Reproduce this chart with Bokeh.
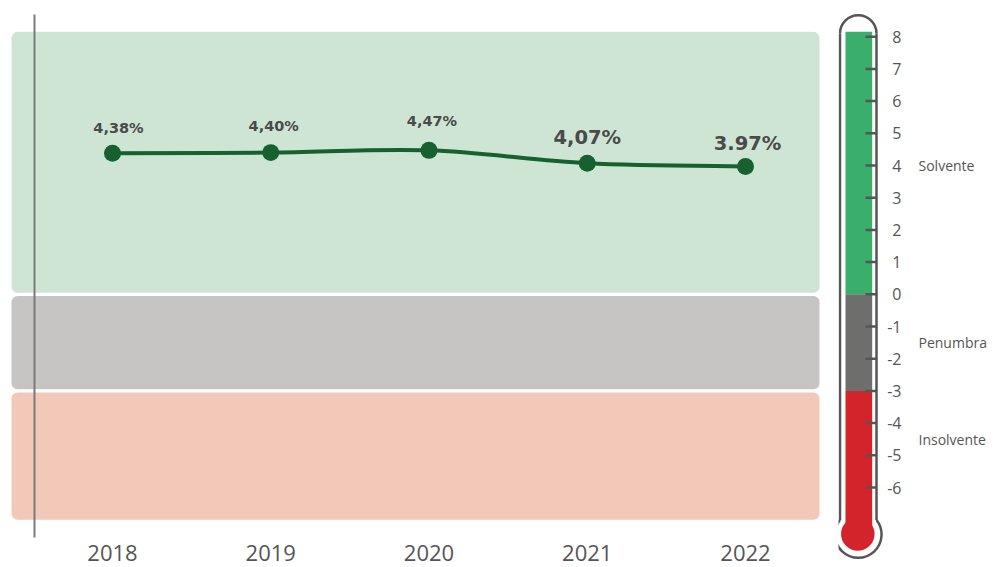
import math
from bokeh.plotting import figure
from bokeh.layouts import row
from bokeh.models import Range1d, ColumnDataSource
from bokeh.core.properties import value
from bokeh.embed import file_html
from bokeh.resources import INLINE

# ---------------- data ----------------
years = [2018, 2019, 2020, 2021, 2022]
ratio = [4.38, 4.40, 4.47, 4.07, 3.97]
ratio_labels = ["4,38%", "4,40%", "4,47%", "4,07%", "3.97%"]

zone_names = ["Solvente", "Penumbra", "Insolvente"]
zone_top = [8.15, 0, -3]
zone_bottom = [0, -3, -7]
scale_ticks = [-6, -5, -4, -3, -2, -1, 0, 1, 2, 3, 4, 5, 6, 7, 8]

# ---------------- styles / layout ----------------
BAND_COLORS = ["#cfe5d4", "#c6c5c3", "#f2c9b8"]
FILL_COLORS = ["#3aaf6c", "#6e6e6d", "#d3242b"]
LINE_COLOR = "#17602f"
TEXT_DARK = "#4a4a4a"
TEXT_GRAY = "#555555"
OUTLINE = "#555555"

H = 567          # figure height (px)
W_MAIN = 838
W_TH = 157
K = 32.2         # px per unit on the value scale
ZERO = 293.8     # px from top to value 0
XPX = 158.25     # px per year
X0 = years[0] - 112 / XPX

def vy(page_y):
    """value corresponding to a pixel row"""
    return (ZERO - page_y) / K

y_range = Range1d(start=(ZERO - H) / K, end=ZERO / K)
x_range = Range1d(start=X0, end=X0 + W_MAIN / XPX)

def base_fig(w, xr):
    f = figure(width=w, height=H, x_range=xr, y_range=y_range,
               output_backend="svg", toolbar_location=None,
               x_axis_location=None, y_axis_location=None,
               min_border=0, min_border_left=0, min_border_right=0,
               min_border_top=0, min_border_bottom=0,
               outline_line_color=None, background_fill_color="white",
               border_fill_color="white")
    f.grid.visible = False
    return f

p = base_fig(W_MAIN, x_range)

# zone bands with small white gaps between them
g = 1.6 / K
b_top = [zone_top[0]] + [t - g for t in zone_top[1:]]
b_bot = [b + g for b in zone_bottom[:-1]] + [zone_bottom[-1]]
p.quad(left=X0 + 11 / XPX, right=X0 + 819 / XPX, top=b_top, bottom=b_bot,
       fill_color=BAND_COLORS, line_color=None, border_radius=6)

# vertical axis line
xl = X0 + 34 / XPX
p.segment(x0=xl, y0=vy(14), x1=xl, y1=vy(537), line_color="#7a7a7a", line_width=2)

# smooth line (Catmull-Rom rendered as bezier)
n = len(years)
x0s, y0s, x1s, y1s, cx0, cy0, cx1, cy1 = [], [], [], [], [], [], [], []
for i in range(n - 1):
    xm, ym = (years[i - 1], ratio[i - 1]) if i > 0 else (years[i], ratio[i])
    xp2, yp2 = (years[i + 2], ratio[i + 2]) if i + 2 < n else (years[i + 1], ratio[i + 1])
    x0s.append(years[i]); y0s.append(ratio[i])
    x1s.append(years[i + 1]); y1s.append(ratio[i + 1])
    cx0.append(years[i] + (years[i + 1] - xm) / 6)
    cy0.append(ratio[i] + (ratio[i + 1] - ym) / 6)
    cx1.append(years[i + 1] - (xp2 - years[i]) / 6)
    cy1.append(ratio[i + 1] - (yp2 - ratio[i]) / 6)
p.bezier(x0=x0s, y0=y0s, x1=x1s, y1=y1s, cx0=cx0, cy0=cy0, cx1=cx1, cy1=cy1,
         line_color=LINE_COLOR, line_width=4)
p.scatter(x=years, y=ratio, size=17, marker="circle",
          fill_color=LINE_COLOR, line_color=None)

lab_src = ColumnDataSource(dict(
    x=years, y=ratio, text=ratio_labels,
    fs=["14.5px", "14.5px", "14.5px", "19.5px", "19.5px"],
    dx=[6, 3, 3, 0, 2], dy=[-25, -27, -29, -26, -23],
))
p.text(x="x", y="y", text="text", source=lab_src, x_offset="dx", y_offset="dy",
       text_font_size="fs", text_font=value("DejaVu Sans"), text_font_style="bold",
       text_color=TEXT_DARK, text_align="center", text_baseline="middle")

# year labels
p.text(x=years, y=vy(552), text=[str(y) for y in years],
       text_font=value("Open Sans"), text_font_size="22px", text_color=TEXT_GRAY,
       text_align="center", text_baseline="middle")

# ---------------- thermometer ----------------
t = base_fig(W_TH, Range1d(0, W_TH))
TX = W_MAIN  # pixel x of thermometer figure

def tx(page_x):
    return page_x - TX

bulb_y = vy(533.5)
fill_bottom = zone_bottom[:-1] + [bulb_y]
t.quad(left=tx(845), right=tx(871.7), top=zone_top, bottom=fill_bottom,
       fill_color=FILL_COLORS, line_color=None)
t.scatter(x=tx(857.3), y=bulb_y, size=33.5, marker="circle",
          fill_color=FILL_COLORS[-1], line_color=None)

cx = tx(857.75)
half = 18.25
r_b = 23.3
ang = math.acos(half / r_b)
join_y = 534 - r_b * math.sin(ang)
# tube outline
t.arc(x=cx, y=vy(33), radius=half, radius_units="screen", start_angle=0,
      end_angle=math.pi, direction="anticlock", line_color=OUTLINE, line_width=2.5)
t.segment(x0=[cx - half, cx + half], y0=[vy(33)] * 2, x1=[cx - half, cx + half],
          y1=[vy(join_y)] * 2, line_color=OUTLINE, line_width=2.5)
t.arc(x=cx, y=vy(534), radius=r_b, radius_units="screen",
      start_angle=math.pi - ang, end_angle=ang, direction="anticlock",
      line_color=OUTLINE, line_width=2.5)

# scale ticks and labels
t.segment(x0=tx(865), y0=scale_ticks, x1=tx(876), y1=scale_ticks,
          line_color=OUTLINE, line_width=2.5)
t.text(x=tx(901), y=scale_ticks, text=[str(v) for v in scale_ticks],
       text_font=value("Open Sans"), text_font_size="16px", text_color=TEXT_GRAY,
       text_align="right", text_baseline="middle")

zone_mid = [4, -1.5, -4.5]
t.text(x=tx(918), y=zone_mid, text=zone_names,
       text_font=value("Open Sans"), text_font_size="14px", text_color=TEXT_GRAY,
       text_align="left", text_baseline="middle")

layout = row(p, t, spacing=0)
open("out.html", "w").write(file_html(layout, INLINE))
